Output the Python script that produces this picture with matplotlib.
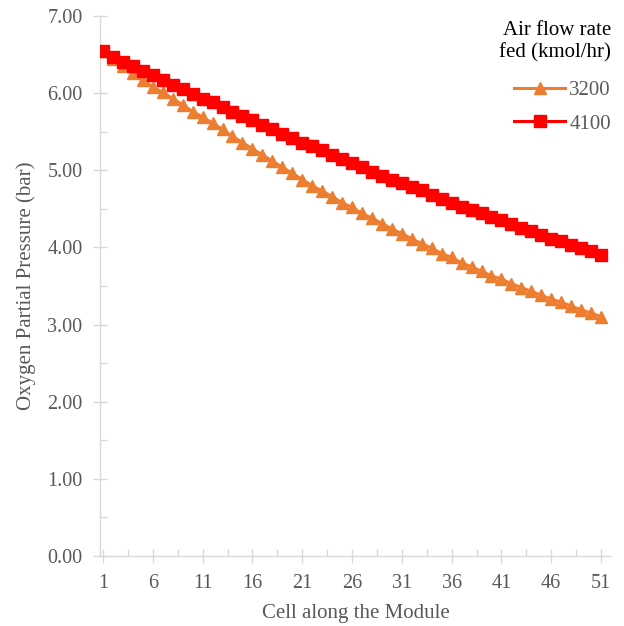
import matplotlib
matplotlib.use("Agg")
import matplotlib.pyplot as plt
import numpy as np

cells = list(range(1, 52))
flow_3200 = [6.54, 6.44, 6.35, 6.26, 6.17, 6.08, 6.01, 5.93, 5.85, 5.76,
             5.69, 5.61, 5.53, 5.44, 5.36, 5.28, 5.20, 5.12, 5.04, 4.96,
             4.88, 4.80, 4.73, 4.66, 4.58, 4.52, 4.44, 4.38, 4.31, 4.24,
             4.18, 4.11, 4.05, 3.99, 3.92, 3.87, 3.80, 3.75, 3.69, 3.63,
             3.59, 3.53, 3.48, 3.43, 3.38, 3.33, 3.29, 3.24, 3.19, 3.15, 3.10]
flow_4100 = [6.54, 6.47, 6.41, 6.35, 6.29, 6.23, 6.17, 6.11, 6.05, 5.99,
             5.93, 5.88, 5.82, 5.76, 5.71, 5.65, 5.59, 5.53, 5.47, 5.42,
             5.36, 5.31, 5.26, 5.20, 5.15, 5.09, 5.04, 4.98, 4.93, 4.88,
             4.83, 4.78, 4.74, 4.68, 4.63, 4.58, 4.53, 4.49, 4.44, 4.39,
             4.35, 4.30, 4.25, 4.21, 4.16, 4.11, 4.08, 4.03, 3.99, 3.95, 3.90]
series_labels = ["3200", "4100"]
x_ticks = [1, 6, 11, 16, 21, 26, 31, 36, 41, 46, 51]
y_ticks = [0, 1, 2, 3, 4, 5, 6, 7]

plt.rcParams['font.family'] = ['Liberation Serif', 'DejaVu Serif']

fig = plt.figure(figsize=(6.24, 6.26), dpi=100)
ax = fig.add_axes([100/624, 1-556/626, 511/624, 540/626])

grey = '#595959'
axcol = '#d9d9d9'

ax.plot(cells, flow_3200, color='#ED7D31', lw=2.2, marker='^', markersize=9,
        label=series_labels[0], zorder=3)
ax.plot(cells, flow_4100, color='#FF0000', lw=2.2, marker='s', markersize=9,
        label=series_labels[1], zorder=4)

ax.set_xlim(0.7, 52.0)
ax.set_ylim(0, 7)
ax.set_xticks(x_ticks)
ax.set_xticks(np.arange(3.5, 51, 5), minor=True)
ax.set_yticks(y_ticks)
ax.set_yticklabels([f"{v:.2f}" for v in y_ticks])
ax.set_yticks(np.arange(0.5, 7, 1), minor=True)

for s in ['top', 'right']:
    ax.spines[s].set_visible(False)
for s in ['left', 'bottom']:
    ax.spines[s].set_color(axcol)
    ax.spines[s].set_linewidth(1.0)

ax.tick_params(axis='both', which='major', direction='inout', length=10,
               width=1.0, color=axcol, labelcolor=grey, labelsize=14.5)
ax.tick_params(axis='both', which='minor', direction='in', length=5,
               width=1.0, color=axcol)
ax.tick_params(axis='x', which='major', pad=7.6)
ax.tick_params(axis='y', which='major', pad=7.6)

ax.set_xlabel("Cell along the Module", fontsize=15, color=grey, labelpad=8)
ax.set_ylabel("Oxygen Partial Pressure (bar)", fontsize=15, color=grey, labelpad=8)

leg = ax.legend(loc='upper right', bbox_to_anchor=(1.0, 0.9907), frameon=False,
                title="Air flow rate\nfed (kmol/hr)", title_fontsize=15,
                fontsize=15, alignment='right', numpoints=1,
                handlelength=2.45, handletextpad=0.2, labelspacing=0.65,
                borderaxespad=0.0, borderpad=0.0)
leg._legend_box.sep = 13.35
for t in leg.get_texts():
    t.set_color(grey)
leg.get_title().set_color('black')
leg.get_title().set_multialignment('right')

fig.savefig("out.png", dpi=100)
